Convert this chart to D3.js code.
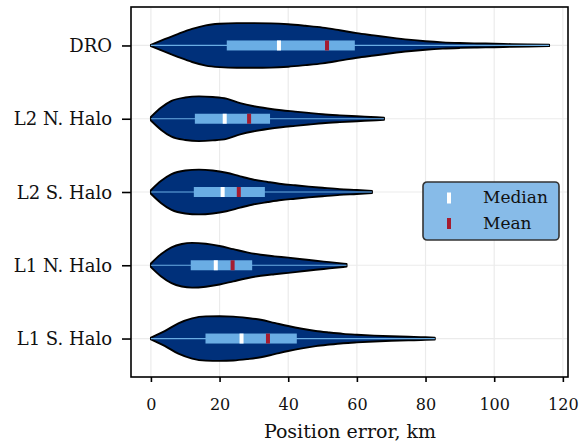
<!DOCTYPE html>
<html lang="en">
<head>
<meta charset="UTF-8">
<title>Position error violins</title>
<script src="https://d3js.org/d3.v7.min.js"></script>
<style>
    body { margin: 0; background: #fff; }
    svg text { font-family: "DejaVu Serif", "Liberation Serif", serif; fill: #111; }
</style>
</head>
<body>
<svg width="580" height="447"></svg>
<script>
    // categories, top to bottom
    const categories = ["DRO", "L2 N. Halo", "L2 S. Halo", "L1 N. Halo", "L1 S. Halo"];

    // summary stats (km)
    const minVals    = [0, 0, 0, 0, 0];
    const maxVals    = [116, 67.9, 64.4, 57, 82.7];
    const q1Vals     = [22.1, 12.8, 12.5, 11.6, 15.9];
    const q3Vals     = [59.4, 34.7, 33.2, 29.5, 42.5];
    const medianVals = [37.3, 21.5, 20.9, 18.9, 26.4];
    const meanVals   = [51.3, 28.6, 25.6, 23.8, 34.1];

    // violin outlines: [value, relative half width]
    const shapeDRO = [[0,0.03],[4,0.28],[8,0.52],[12,0.74],[16,0.9],[20,0.97],[25,1.0],[30,1.0],[35,0.99],[40,0.95],[45,0.88],[50,0.8],[55,0.68],[60,0.55],[65,0.45],[70,0.35],[75,0.26],[80,0.19],[85,0.14],[90,0.11],[95,0.09],[100,0.08],[105,0.06],[110,0.045],[116,0.03]];
    const shapeL2N = [[0,0.08],[3,0.5],[6,0.8],[10,0.95],[14,1.0],[18,0.97],[22,0.9],[26,0.7],[30,0.56],[34,0.46],[38,0.38],[42,0.32],[46,0.26],[50,0.2],[55,0.15],[60,0.11],[64,0.08],[67.9,0.05]];
    const shapeL2S = [[0,0.08],[3,0.5],[6,0.8],[10,0.96],[14,1.0],[18,0.96],[22,0.86],[26,0.7],[30,0.55],[34,0.45],[38,0.36],[42,0.3],[46,0.24],[50,0.19],[55,0.13],[60,0.09],[64.4,0.05]];
    const shapeL1N = [[0,0.08],[3,0.5],[6,0.8],[9,0.95],[12,1.0],[16,0.96],[20,0.86],[24,0.72],[28,0.58],[32,0.47],[36,0.4],[40,0.34],[44,0.27],[48,0.2],[52,0.14],[57,0.06]];
    const shapeL1S = [[0,0.04],[4,0.33],[8,0.68],[12,0.9],[16,0.99],[20,1.0],[24,0.98],[28,0.92],[32,0.84],[36,0.7],[40,0.56],[44,0.44],[48,0.34],[52,0.27],[56,0.21],[60,0.17],[65,0.13],[70,0.1],[75,0.08],[80,0.06],[82.7,0.04]];
    const shapes = [shapeDRO, shapeL2N, shapeL2S, shapeL1N, shapeL1S];

    const xTicks = [0, 20, 40, 60, 80, 100, 120];

    const margin = {top: 7, right: 12, bottom: 70, left: 131};
    const svg = d3.select("svg");
    const width = +svg.attr("width") - margin.left - margin.right;
    const height = +svg.attr("height") - margin.top - margin.bottom;

    const g = svg.append("g").attr("transform", `translate(${margin.left},${margin.top})`);

    const x = d3.scaleLinear().domain([-5.8, 121.5]).range([0, width]);
    const y = d3.scalePoint().domain(categories).range([0, height]).padding(0.525);
    const halfW = y.step() * 0.305;

    // grid
    g.append("g").selectAll("line").data(xTicks).join("line")
        .attr("x1", d => x(d)).attr("x2", d => x(d))
        .attr("y1", 0).attr("y2", height)
        .attr("stroke", "#ebebeb").attr("stroke-width", 1.2);
    g.append("g").selectAll("line").data(categories).join("line")
        .attr("x1", 0).attr("x2", width)
        .attr("y1", d => y(d)).attr("y2", d => y(d))
        .attr("stroke", "#ebebeb").attr("stroke-width", 1.2);

    const area = d3.area()
        .curve(d3.curveMonotoneX)
        .x(d => x(d[0]));

    categories.forEach((c, i) => {
        const yc = y(c);
        const vg = g.append("g");
        vg.append("path")
            .datum(shapes[i])
            .attr("d", area.y0(d => yc - d[1] * halfW).y1(d => yc + d[1] * halfW))
            .attr("fill", "#00307a")
            .attr("stroke", "#000")
            .attr("stroke-width", 1.9)
            .attr("stroke-linejoin", "round");
        // whisker
        vg.append("line")
            .attr("x1", x(minVals[i])).attr("x2", x(maxVals[i]))
            .attr("y1", yc).attr("y2", yc)
            .attr("stroke", "#6aade4").attr("stroke-width", 1.2);
        // IQR box
        vg.append("rect")
            .attr("x", x(q1Vals[i])).attr("width", x(q3Vals[i]) - x(q1Vals[i]))
            .attr("y", yc - 5).attr("height", 10)
            .attr("fill", "#6aade4");
        vg.append("rect")
            .attr("x", x(medianVals[i]) - 2).attr("width", 4)
            .attr("y", yc - 5).attr("height", 10)
            .attr("fill", "#fff");
        vg.append("rect")
            .attr("x", x(meanVals[i]) - 2).attr("width", 4)
            .attr("y", yc - 5).attr("height", 10)
            .attr("fill", "#a51c30");
    });

    // axes
    const xAxis = g.append("g").attr("transform", `translate(0,${height})`)
        .call(d3.axisBottom(x).tickValues(xTicks).tickSize(5));
    const yAxis = g.append("g")
        .call(d3.axisLeft(y).tickSize(9));
    [xAxis, yAxis].forEach(a => {
        a.select(".domain").remove();
        a.selectAll(".tick line").attr("stroke", "#000").attr("stroke-width", 1.6);
        a.selectAll(".tick text").attr("fill", "#111");
    });
    xAxis.selectAll(".tick text").attr("font-size", 16).attr("y", 33).attr("dy", 0);
    yAxis.selectAll(".tick text").attr("font-size", 18).attr("x", -19).attr("dy", 0).attr("y", 6);

    g.append("rect")
        .attr("x", 0).attr("y", 0).attr("width", width).attr("height", height)
        .attr("fill", "none").attr("stroke", "#000").attr("stroke-width", 1.6);

    g.append("text")
        .attr("x", 350 - margin.left).attr("y", 438 - margin.top)
        .attr("text-anchor", "middle")
        .attr("font-size", 19)
        .text("Position error, km");

    // legend
    const legendItems = [{label: "Median", color: "#fff"}, {label: "Mean", color: "#a51c30"}];
    const lg = g.append("g").attr("transform", `translate(${423 - margin.left},${182 - margin.top})`);
    lg.append("rect")
        .attr("width", 136).attr("height", 58).attr("rx", 4)
        .attr("fill", "#87bbe8").attr("stroke", "#333").attr("stroke-width", 1.6);
    legendItems.forEach((it, i) => {
        const ly = 16 + i * 25.5;
        lg.append("rect")
            .attr("x", 24).attr("y", ly - 5.5).attr("width", 4).attr("height", 11)
            .attr("fill", it.color);
        lg.append("text")
            .attr("x", 60).attr("y", ly + 5)
            .attr("font-size", 17)
            .text(it.label);
    });
</script>
</body>
</html>
